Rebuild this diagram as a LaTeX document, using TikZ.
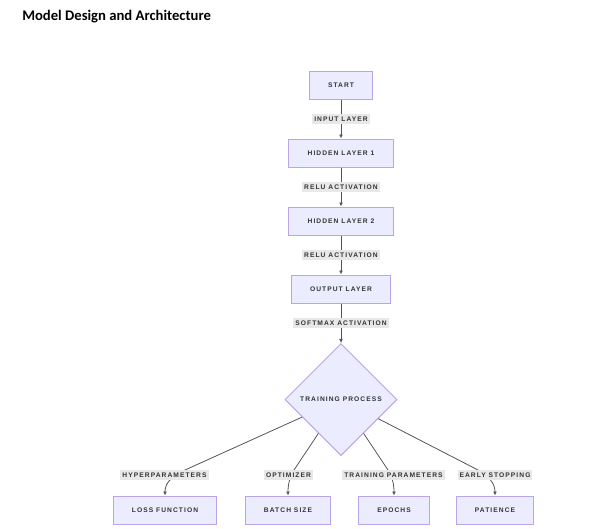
\documentclass[tikz,border=0pt]{standalone}
\usepackage{fontspec}
\usepackage{tikz}
\usetikzlibrary{
  arrows.meta,      % Latex 箭头样式
  shapes.geometric, % 菱形节点
  positioning       % 节点相对定位
}
\newfontfamily\titlefont{Carlito}
\newfontfamily\diagfont{Liberation Sans}[LetterSpace=16]
\definecolor{boxfill}{HTML}{ECECFF}
\definecolor{boxline}{HTML}{B8A5EC}
\definecolor{lblfill}{HTML}{E8E8E8}
\definecolor{txtgray}{HTML}{333333}
\definecolor{edgegray}{HTML}{555555}

\tikzset{
  layerbox/.style={draw=boxline, fill=boxfill, line width=0.75pt,
    minimum height=21pt, inner xsep=14pt, text=txtgray,
    font=\diagfont\bfseries\fontsize{5pt}{6pt}\selectfont},
  decision/.style={diamond, aspect=1, draw=boxline, fill=boxfill,
    line width=0.75pt, minimum size=84pt, inner sep=0pt, text=txtgray,
    font=\diagfont\bfseries\fontsize{5pt}{6pt}\selectfont},
  edgelbl/.style={fill=lblfill, inner xsep=1.5pt, inner ysep=2pt,
    text=txtgray, font=\diagfont\bfseries\fontsize{5pt}{6pt}\selectfont},
  arrow/.style={draw=edgegray, line width=0.6pt,
    -{Latex[length=3pt, width=3pt]}}
}

\begin{document}
\begin{tikzpicture}[x=0.75pt, y=-0.75pt]
  \useasboundingbox (0, 0) rectangle (594, 529);

  % 标题
  \node[anchor=base west, inner sep=0pt,
    font=\titlefont\bfseries\fontsize{11pt}{13pt}\selectfont]
    (title) at (22, 20) {Model Design and Architecture};

  % 主干：网络各层
  \node[layerbox] (start) at (341, 85) {START};
  \node[layerbox] (hid1) at (341, 153) {HIDDEN LAYER 1};
  \node[layerbox] (hid2) at (341, 221) {HIDDEN LAYER 2};
  \node[layerbox] (outl) at (341, 289) {OUTPUT LAYER};
  \node[decision] (train) at (341, 399.5) {TRAINING PROCESS};

  % 底部：训练设置
  \node[layerbox] (loss) at (165, 510) {LOSS FUNCTION};
  \node[layerbox] (batch) at (288, 510) {BATCH SIZE};
  \node[layerbox] (epochs) at (394, 510) {EPOCHS};
  \node[layerbox] (patience) at (495, 510) {PATIENCE};

  % 主干连线
  \draw[arrow] (start) -- (hid1) node[edgelbl, midway] (inlbl) {INPUT LAYER};
  \draw[arrow] (hid1) -- (hid2) node[edgelbl, midway] (relu1) {RELU ACTIVATION};
  \draw[arrow] (hid2) -- (outl) node[edgelbl, midway] (relu2) {RELU ACTIVATION};
  \draw[arrow] (outl) -- (train) node[edgelbl, midway] (softlbl) {SOFTMAX ACTIVATION};

  % 分支连线
  \draw[arrow] (train) -- (185, 470) .. controls (170, 477) and (165, 484) .. (loss)
    node[edgelbl] (hyplbl) at (164.5, 475) {HYPERPARAMETERS};
  \draw[arrow] (train) -- (294, 470) .. controls (290, 476) and (288, 484) .. (batch)
    node[edgelbl] (optlbl) at (288.5, 475) {OPTIMIZER};
  \draw[arrow] (train) -- (388, 470) .. controls (392, 476) and (394, 484) .. (epochs)
    node[edgelbl] (tplbl) at (393.5, 475) {TRAINING PARAMETERS};
  \draw[arrow] (train) -- (478, 470) .. controls (490, 477) and (495, 484) .. (patience)
    node[edgelbl] (eslbl) at (495, 475) {EARLY STOPPING};
\end{tikzpicture}
\end{document}
